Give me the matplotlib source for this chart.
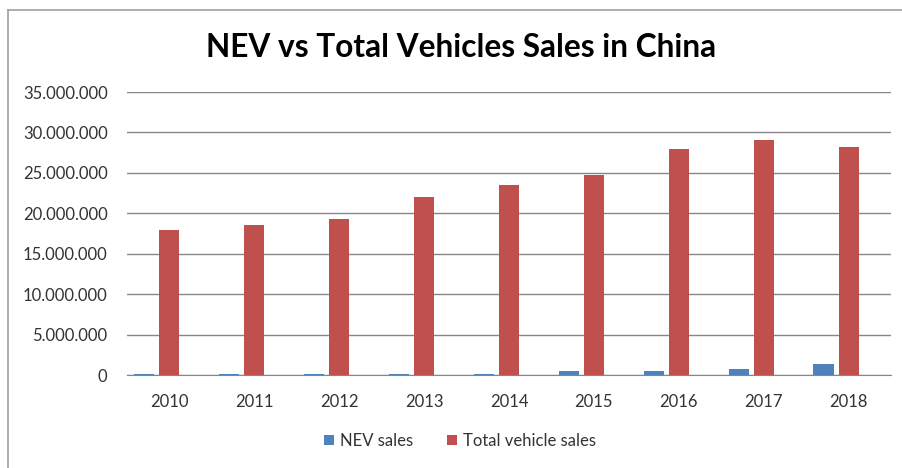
import numpy as np
import matplotlib.pyplot as plt
from matplotlib.lines import Line2D
from matplotlib.ticker import FuncFormatter

# data
years = ['2010', '2011', '2012', '2013', '2014', '2015', '2016', '2017', '2018']
nev_sales = [150000, 150000, 150000, 150000, 150000, 450000, 450000, 800000, 1320000]
total_sales = [17900000, 18500000, 19300000, 22000000, 23500000, 24700000, 28000000, 29100000, 28200000]
y_ticks = [0, 5000000, 10000000, 15000000, 20000000, 25000000, 30000000, 35000000]

plt.rcParams['font.family'] = ['Lato', 'DejaVu Sans']

fig = plt.figure(figsize=(9.02, 4.68), dpi=100)
ax = fig.add_axes([0.1408, 0.1987, 0.8470, 0.6047])

x = np.arange(len(years))
w = 0.236
ax.bar(x - 0.295, nev_sales, width=w, color='#4f81bd', label='NEV sales', zorder=3)
ax.bar(x, total_sales, width=w, color='#c0504d', label='Total vehicle sales', zorder=3)

ax.set_xlim(-0.5, len(years) - 0.5)
ax.set_ylim(0, 35000000)
ax.set_yticks(y_ticks)
ax.yaxis.set_major_formatter(FuncFormatter(lambda v, p: f'{int(v):,}'.replace(',', '.')))
ax.set_xticks(x)
ax.set_xticklabels(years)

ax.grid(axis='y', color='#868686', linewidth=1, zorder=0)
for s in ['left', 'right', 'top']:
    ax.spines[s].set_visible(False)
ax.spines['bottom'].set_color('#868686')
ax.tick_params(axis='both', length=0, labelsize=12, colors='#333333')
ax.tick_params(axis='x', pad=14)
ax.tick_params(axis='y', pad=14)

fig.text(0.511, 0.898, 'NEV vs Total Vehicles Sales in China', ha='center', va='center',
         fontsize=22.8, fontweight='bold', color='black')

fig.legend(loc='center', bbox_to_anchor=(0.51, 0.058), ncol=2, frameon=False,
           fontsize=12, handlelength=0.6, handleheight=0.6, handletextpad=0.4,
           columnspacing=2.0, labelcolor='#333333')

# outer chart border (top and left edges visible)
fig.add_artist(Line2D([8 / 902, 8 / 902], [0, 1 - 10 / 468], color='#a0a0a0', linewidth=1.2))
fig.add_artist(Line2D([8 / 902, 1], [1 - 10 / 468, 1 - 10 / 468], color='#a0a0a0', linewidth=1.2))

fig.savefig('out.png', dpi=100)
